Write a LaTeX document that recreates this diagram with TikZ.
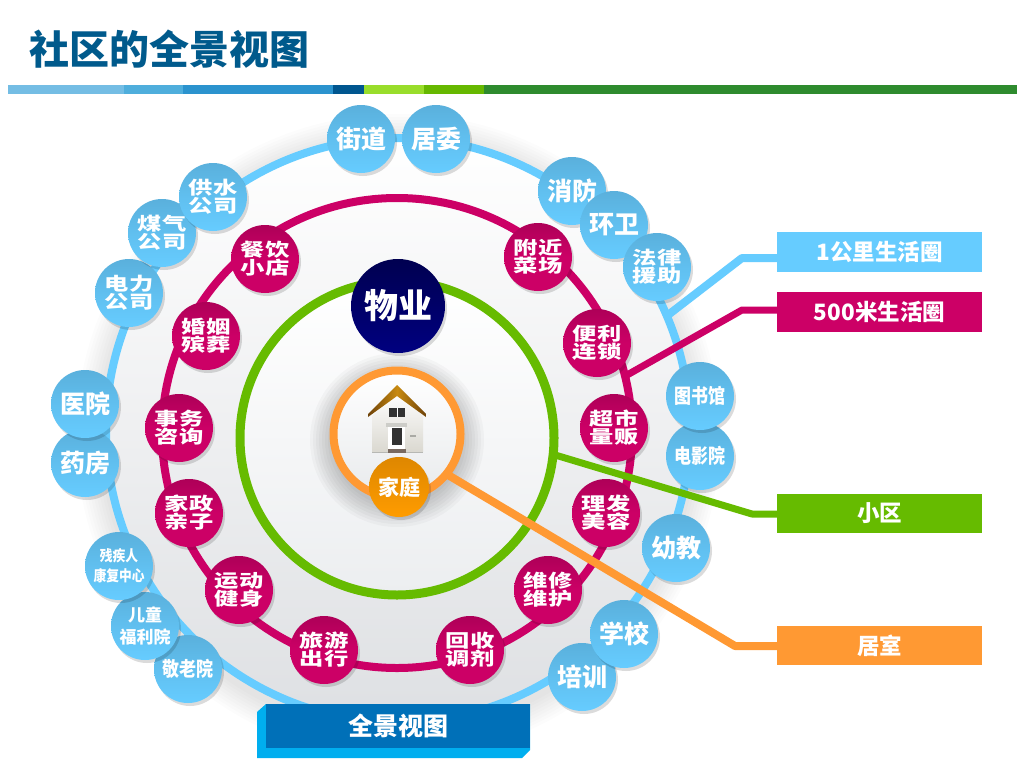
\documentclass[tikz,border=0pt]{standalone}
\usepackage{fontspec}
\usepackage{graphicx}
\setmainfont{Noto Sans CJK SC}
\usetikzlibrary{shadows}
\definecolor{ringblue}{HTML}{66CCFF}
\definecolor{bluetop}{HTML}{5AB0DC}
\definecolor{ringmag}{HTML}{CC0066}
\definecolor{magtop}{HTML}{AE0058}
\definecolor{ringgreen}{HTML}{66BB00}
\definecolor{ringorange}{HTML}{FF9933}
\definecolor{titleblue}{HTML}{005A8C}
\definecolor{barA}{HTML}{74BDE4}
\definecolor{barB}{HTML}{4FAEDC}
\definecolor{barC}{HTML}{2B93CE}
\definecolor{barD}{HTML}{00568F}
\definecolor{barE}{HTML}{99DD2B}
\definecolor{barF}{HTML}{66B800}
\definecolor{barG}{HTML}{2E8B2E}
\definecolor{discbot}{HTML}{DEE0E3}
\definecolor{discmid}{HTML}{F8F9FA}
\definecolor{greenbot}{HTML}{ECEEF0}
\definecolor{orangebot}{HTML}{E8EAEC}
\definecolor{navytop}{HTML}{000050}
\definecolor{navybot}{HTML}{000080}
\definecolor{famtop}{HTML}{DE8700}
\definecolor{fambot}{HTML}{FF9C00}
\definecolor{bancyan}{HTML}{00AEEF}
\definecolor{banblue}{HTML}{0070B8}
\definecolor{hbase}{HTML}{78786F}
\definecolor{hwall}{HTML}{DAD8D0}
\definecolor{hroofa}{HTML}{6E4208}
\definecolor{hroofb}{HTML}{C88A10}
\definecolor{hdark}{HTML}{323232}
\definecolor{hporch}{HTML}{CDCDC8}
\definecolor{hstep}{HTML}{786960}
\definecolor{hmail}{HTML}{AAAAA5}
\newcommand{\ww}[1]{\scalebox{1.35}[1]{#1}}
\newcommand{\nn}[1]{\scalebox{.85}[1]{#1}}
\tikzset{
  softshadow/.style={drop shadow={shadow xshift=2pt,shadow yshift=-3pt,fill=black,opacity=.14}},
  ball/.style={circle,minimum size=68pt,inner sep=0pt,outer sep=0pt,text=white,align=center,softshadow},
  blueball/.style={ball,top color=bluetop,bottom color=ringblue,middle color=ringblue!55!bluetop},
  magball/.style={ball,top color=magtop,bottom color=ringmag,middle color=ringmag},
  big/.style={font=\bfseries\fontsize{25}{25}\selectfont},
  flat/.style={font=\bfseries\fontsize{18}{18}\selectfont},
  narrow/.style={font=\bfseries\fontsize{20}{20}\selectfont},
  tiny/.style={font=\bfseries\fontsize{15}{20}\selectfont},
  mid/.style={font=\bfseries\fontsize{17}{22}\selectfont},
  ring/.style={circle,inner sep=0pt,outer sep=0pt},
  labelbox/.style={minimum width=205pt,minimum height=40pt,inner sep=0pt,outer sep=0pt,text=white,font=\bfseries\fontsize{22.5}{23}\selectfont},
  link/.style={line join=bevel}
}
\begin{document}
\begin{tikzpicture}[x=1pt,y=-1pt]
\useasboundingbox (0,0) rectangle (1024,768);
\fill[white] (0,0) rectangle (1024,768);
% title and rule
\node[anchor=center,text=titleblue,font=\bfseries\fontsize{40}{40}\selectfont] (title) at (169.5,49) {社区的全景视图};
\fill[barA] (8,85) rectangle (124,94);
\fill[barB] (124,85) rectangle (183,94);
\fill[barC] (183,85) rectangle (333,94);
\fill[barD] (333,85) rectangle (364,94);
\fill[barE] (364,85) rectangle (424,94);
\fill[barF] (424,85) rectangle (484,94);
\fill[barG] (484,85) rectangle (1017,94);
% soft shadow of the big disc
\foreach \r in {298,301,...,322}{\fill[black,opacity=.012] (398,436) circle[radius=\r pt];}
% rings
\node[ring,minimum size=584pt,draw=ringblue,line width=8pt,top color=white,middle color=discmid,bottom color=discbot] (outerring) at (398,430) {};
\node[ring,minimum size=470pt,draw=ringmag,line width=8pt] (magring) at (397,433) {};
\node[ring,minimum size=314pt,draw=ringgreen,line width=9pt,top color=white,middle color=white,bottom color=greenbot] (greenring) at (397,438) {};
\foreach \r in {66,69,...,87}{\fill[black,opacity=.028] (397,440) circle[radius=\r pt];}
\node[ring,minimum size=127pt,draw=ringorange,line width=8pt,top color=white,middle color=white,bottom color=orangebot] (orangering) at (397,434) {};
% labels
\node[labelbox,fill=ringblue] (lab1) at (879.5,252) {1公里生活圈};
\node[labelbox,fill=ringmag] (lab2) at (879.5,312) {500米生活圈};
\node[labelbox,fill=ringgreen,minimum height=39pt] (lab3) at (879.5,513.5) {小区};
\node[labelbox,fill=ringorange,minimum height=39pt] (lab4) at (879.5,645.5) {居室};
% connectors
\coordinate (elbow1) at (742,258);
\coordinate (elbow2) at (742,310);
\coordinate (elbow3) at (752,514);
\coordinate (elbow4) at (735,646);
\draw[link,ringblue,line width=8pt] (outerring.23) -- (elbow1) -- (elbow1 -| lab1.west);
\draw[link,ringmag,line width=7pt] (magring.14) -- (elbow2) -- (elbow2 -| lab2.west);
\draw[link,ringgreen,line width=7pt] (greenring.-6) -- (elbow3) -- (elbow3 -| lab3.west);
\draw[link,ringorange,line width=8pt] (orangering.-39) -- (elbow4) -- (elbow4 -| lab4.west);
% blue balls
\node[blueball,big] (jiedao) at (361,139) {街道};
\node[blueball,big] (juwei) at (436,139) {居委};
\node[blueball,big] (xiaofang) at (572,191) {消防};
\node[blueball,big] (huanwei) at (614,225) {环卫};
\node[blueball,flat] (falv) at (657,267) {\ww{法律}\\\ww{援助}};
\node[blueball,narrow] (dianying) at (700,456) {\nn{电影院}};
\node[blueball,narrow] (tushu) at (700,396) {\nn{图书馆}};
\node[blueball,big] (youjiao) at (676,548) {幼教};
\node[blueball,big] (peixun) at (582,677) {培训};
\node[blueball,big] (xuexiao) at (624,634) {学校};
\node[blueball,narrow] (jinglao) at (188,669) {\nn{敬老院}};
\node[blueball,mid] (ertong) at (145,626) {儿童\\福利院};
\node[blueball,tiny] (canji) at (119,566) {\nn{残疾人}\\\nn{康复中心}};
\node[blueball,big] (yaofang) at (85,463) {药房};
\node[blueball,big] (yiyuan) at (85,404) {医院};
\node[blueball,flat] (dianli) at (129,293) {\ww{电力}\\\ww{公司}};
\node[blueball,flat] (meiqi) at (162,233) {\ww{煤气}\\\ww{公司}};
\node[blueball,flat] (gongshui) at (213,197) {\ww{供水}\\\ww{公司}};
% magenta balls
\node[magball,flat] (canyin) at (265,259) {\ww{餐饮}\\\ww{小店}};
\node[magball,flat] (fujin) at (538,257) {\ww{附近}\\\ww{菜场}};
\node[magball,flat] (bianli) at (597,343) {\ww{便利}\\\ww{连锁}};
\node[magball,flat] (chaoshi) at (614,428) {\ww{超市}\\\ww{量贩}};
\node[magball,flat] (lifa) at (606,513) {\ww{理发}\\\ww{美容}};
\node[magball,flat] (weixiu) at (548,590) {\ww{维修}\\\ww{维护}};
\node[magball,flat] (huishou) at (470,650) {\ww{回收}\\\ww{调剂}};
\node[magball,flat] (lvyou) at (324,650) {\ww{旅游}\\\ww{出行}};
\node[magball,flat] (yundong) at (239,590) {\ww{运动}\\\ww{健身}};
\node[magball,flat] (jiazheng) at (189,513) {\ww{家政}\\\ww{亲子}};
\node[magball,flat] (shiwu) at (179,428) {\ww{事务}\\\ww{咨询}};
\node[magball,flat] (hunyin) at (206,336) {\ww{婚姻}\\\ww{殡葬}};
% property
\node[circle,minimum size=94pt,inner sep=0pt,text=white,top color=navytop,bottom color=navybot,softshadow,font=\bfseries\fontsize{34}{34}\selectfont] (wuye) at (398,306) {物业};
% house
\fill[hbase,opacity=.5] (372,451) rectangle (423,453);
\shade[top color=white,middle color=white,bottom color=hwall] (397,393) -- (423,416) -- (423,452) -- (372,452) -- (372,416) -- cycle;
\shade[left color=hroofa,right color=hroofa,middle color=hroofb] (397,385) -- (426,414) -- (426,417) -- (397,396) -- (368,417) -- (368,414) -- cycle;
\fill[hdark] (389,408) rectangle (405,417);
\draw[white,line width=.7pt] (397,408) -- (397,417);
\fill[hporch] (386,423) rectangle (407,427);
\fill[white] (388,427) rectangle (405,450);
\fill[hdark] (392,428) rectangle (402,445);
\fill[hstep] (388,449) rectangle (406,453);
\fill[hmail] (410,435) rectangle (416,437);
% family
\node[circle,minimum size=60pt,inner sep=0pt,text=white,top color=famtop,bottom color=fambot,softshadow,font=\bfseries\fontsize{21}{21}\selectfont] (jiating) at (399,487) {家庭};
% banner
\fill[bancyan] (266,704) -- (530,704) -- (530,750) -- (522,758) -- (257,758) -- (257,712) -- cycle;
\node[minimum width=264pt,minimum height=44pt,inner sep=0pt,fill=banblue,text=white,font=\bfseries\fontsize{25}{25}\selectfont] (banner) at (398,726) {全景视图};
\end{tikzpicture}
\end{document}
